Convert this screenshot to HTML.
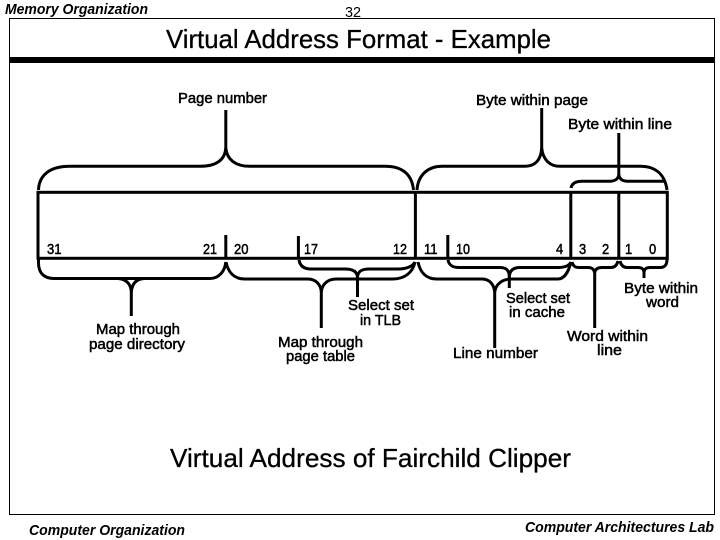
<!DOCTYPE html>
<html>
<head>
<meta charset="utf-8">
<style>
html,body{margin:0;padding:0;background:#fff;}
svg{display:block;}
text{font-family:"Liberation Sans",sans-serif;fill:#000;}
.l{font-size:15px;font-weight:400;stroke:#000;stroke-width:.5px;}
.n{font-size:15px;font-weight:400;stroke:#000;stroke-width:.5px;}
.t{font-size:26px;stroke:#000;stroke-width:.3px;}
.i{font-size:15px;font-weight:700;font-style:italic;}
</style>
</head>
<body>
<svg width="720" height="540" viewBox="0 0 720 540" xmlns="http://www.w3.org/2000/svg">
<rect x="0" y="0" width="720" height="540" fill="#fff"/>
<rect x="9.5" y="18.5" width="705" height="496" fill="none" stroke="#000" stroke-width="1"/>
<rect x="9" y="57" width="706" height="6" fill="#000"/>

<g fill="none" stroke="#000" stroke-width="3">
<rect x="38" y="192.3" width="629.3" height="66"/>
<path d="M415.4 192V259M570.8 192V259M618.8 192V259"/>
<path d="M225.8 235V259M298.4 236V259M447.8 235V259"/>

<!-- top braces -->
<path d="M38.5 190C39 175 50 166.3 70 166.3H200C216 166.3 225 160 225.8 148V110"/>
<path d="M225.8 148C227 160 236 166.3 250 166.3H385C403 166.3 412 175 413.5 190"/>
<path d="M417 190C418 175 428 166.3 442 166.3H525C535 166.3 541 160 541.7 148V108"/>
<path d="M541.7 148C543 160 550 166.3 560 166.3H640C656 166.3 665 175 667 190"/>
<path d="M571 188C572 183 576 181.3 582 181.3H608C614 181.3 618 180 618.8 175V133"/>
<path d="M618.8 175C620 180 623 181.3 630 181.3H665"/>

<!-- bottom braces -->
<path d="M38.5 259V264C39 273 44 278.5 54 278.5H210C219 278.5 225 271 225.8 262"/>
<path d="M118 278.5C126 279 131 284 131.3 292V316M144 278.5C136 279 132 284 131.3 292"/>
<path d="M226 262C228 272 234 279 245 279H308C316 279 321 285 321.3 292V328"/>
<path d="M321.3 292C322 284 328 279 336 279H393C405 279 413 272 415 262"/>
<path d="M299 260C300 266 304 269 311 269H345C352 269 357 271 357.5 277V297"/>
<path d="M357.5 277C358 271 362 269 369 269H398C407 269 413 266 415 262"/>
<path d="M418 262C420 272 426 279 437 279H482C490 279 494 285 494.7 292V348"/>
<path d="M494.7 292C496 284 502 279 512 279H558C565 279 569 270 571 262"/>
<path d="M448 260C449 265 452 267.5 459 267.5H500C506 267.5 509 270 509.3 276V288"/>
<path d="M509.3 276C510 270 514 267.5 520 267.5H558C565 267.5 569 266 571 262"/>
<path d="M572 262C573 266 575 267.5 579 267.5H588C592 267.5 594 269 594.7 273V328"/>
<path d="M594.7 273C595 269 598 267.5 602 267.5H611C615 267.5 617 265 618 261"/>
<path d="M620 261C621 265 623 267.5 627 267.5H638C642 267.5 643.5 269 644 272V278"/>
<path d="M644 272C644.5 269 646 267.5 650 267.5H660C665 267.5 667 265 667 259"/>
</g>

<text class="i" x="5" y="14" textLength="143" lengthAdjust="spacingAndGlyphs">Memory Organization</text>
<text x="345" y="17" font-size="15" textLength="16" lengthAdjust="spacingAndGlyphs">32</text>
<text class="t" x="166" y="48" textLength="385" lengthAdjust="spacingAndGlyphs">Virtual Address Format - Example</text>

<text class="l" x="178" y="103" textLength="89" lengthAdjust="spacingAndGlyphs">Page number</text>
<text class="l" x="476" y="105" textLength="112" lengthAdjust="spacingAndGlyphs">Byte within page</text>
<text class="l" x="568" y="129" textLength="104" lengthAdjust="spacingAndGlyphs">Byte within line</text>

<text class="n" x="47" y="254" textLength="14.5" lengthAdjust="spacingAndGlyphs">31</text>
<text class="n" x="203" y="254" textLength="14" lengthAdjust="spacingAndGlyphs">21</text>
<text class="n" x="234" y="254" textLength="14.5" lengthAdjust="spacingAndGlyphs">20</text>
<text class="n" x="304" y="254" textLength="14" lengthAdjust="spacingAndGlyphs">17</text>
<text class="n" x="393" y="254" textLength="14" lengthAdjust="spacingAndGlyphs">12</text>
<text class="n" x="424" y="254" textLength="13.5" lengthAdjust="spacingAndGlyphs">11</text>
<text class="n" x="456" y="254" textLength="14" lengthAdjust="spacingAndGlyphs">10</text>
<text class="n" x="556" y="254" textLength="7.2" lengthAdjust="spacingAndGlyphs">4</text>
<text class="n" x="579" y="254" textLength="7.2" lengthAdjust="spacingAndGlyphs">3</text>
<text class="n" x="602" y="254" textLength="7.2" lengthAdjust="spacingAndGlyphs">2</text>
<text class="n" x="625" y="254" textLength="7.2" lengthAdjust="spacingAndGlyphs">1</text>
<text class="n" x="649" y="254" textLength="7.2" lengthAdjust="spacingAndGlyphs">0</text>

<text class="l" x="96" y="334" textLength="84" lengthAdjust="spacingAndGlyphs">Map through</text>
<text class="l" x="89" y="349" textLength="96" lengthAdjust="spacingAndGlyphs">page directory</text>
<text class="l" x="278" y="347" textLength="85" lengthAdjust="spacingAndGlyphs">Map through</text>
<text class="l" x="286" y="361" textLength="69" lengthAdjust="spacingAndGlyphs">page table</text>
<text class="l" x="348" y="310" textLength="66" lengthAdjust="spacingAndGlyphs">Select set</text>
<text class="l" x="360" y="325" textLength="41" lengthAdjust="spacingAndGlyphs">in TLB</text>
<text class="l" x="506" y="303" textLength="64" lengthAdjust="spacingAndGlyphs">Select set</text>
<text class="l" x="509" y="317" textLength="56" lengthAdjust="spacingAndGlyphs">in cache</text>
<text class="l" x="567" y="341" textLength="81" lengthAdjust="spacingAndGlyphs">Word within</text>
<text class="l" x="597" y="355" textLength="25" lengthAdjust="spacingAndGlyphs">line</text>
<text class="l" x="624" y="293" textLength="74" lengthAdjust="spacingAndGlyphs">Byte within</text>
<text class="l" x="646" y="307" textLength="33" lengthAdjust="spacingAndGlyphs">word</text>
<text class="l" x="453" y="358" textLength="85" lengthAdjust="spacingAndGlyphs">Line number</text>

<text class="t" x="170" y="467" textLength="401" lengthAdjust="spacingAndGlyphs">Virtual Address of Fairchild Clipper</text>

<text class="i" x="29" y="535" textLength="156" lengthAdjust="spacingAndGlyphs">Computer Organization</text>
<text class="i" x="525" y="532" textLength="189" lengthAdjust="spacingAndGlyphs">Computer Architectures Lab</text>
</svg>
</body>
</html>
